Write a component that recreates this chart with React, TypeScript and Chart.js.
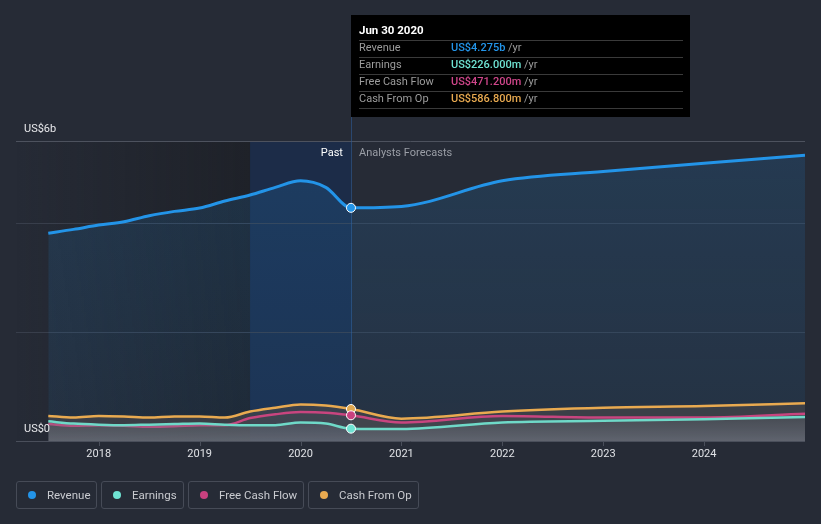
import React, { useEffect, useRef } from "react";
import { Chart, registerables } from "chart.js";

Chart.register(...registerables);

// ---- data (values in US$ billions, x in decimal years) ----
const pastDates = [2017.5, 2017.75, 2018.0, 2018.25, 2018.5, 2018.75, 2019.0, 2019.25, 2019.5, 2019.75, 2020.0, 2020.25, 2020.5];
const forecastDates = [2021.0, 2022.0, 2023.0, 2024.0, 2025.0];
const dates = [...pastDates, ...forecastDates];

const revenue = [3.81, 3.88, 3.96, 4.02, 4.13, 4.21, 4.27, 4.4, 4.51, 4.65, 4.77, 4.65, 4.275, 4.3, 4.77, 4.94, 5.09, 5.24];
const earnings = [0.36, 0.32, 0.3, 0.29, 0.3, 0.31, 0.32, 0.3, 0.29, 0.29, 0.34, 0.32, 0.226, 0.22, 0.34, 0.37, 0.4, 0.44];
const freeCashFlow = [0.31, 0.28, 0.29, 0.28, 0.26, 0.27, 0.29, 0.29, 0.42, 0.49, 0.53, 0.52, 0.4712, 0.34, 0.46, 0.43, 0.43, 0.5];
const cashFromOp = [0.46, 0.43, 0.46, 0.45, 0.43, 0.45, 0.45, 0.43, 0.54, 0.61, 0.67, 0.65, 0.5868, 0.41, 0.54, 0.61, 0.64, 0.69];

const xTickYears = [2018, 2019, 2020, 2021, 2022, 2023, 2024];
const yGridValues = [0, 2, 4, 5.5];
const yLabels = [
  { value: 0, text: "US$0" },
  { value: 5.5, text: "US$6b" },
];

const highlightDate = 2020.5;
const pastStart = 2017.18;
const bandStart = 2019.5;
const xMax = 2025.0;
const yMax = 5.5;

const tooltipTitle = "Jun 30 2020";
const tooltipRows = [
  { label: "Revenue", value: "US$4.275b", color: "#2394e8" },
  { label: "Earnings", value: "US$226.000m", color: "#6fe3d3" },
  { label: "Free Cash Flow", value: "US$471.200m", color: "#d0468b" },
  { label: "Cash From Op", value: "US$586.800m", color: "#e9aa50" },
];

const legendItems = [
  { label: "Revenue", color: "#2394e8", width: 81 },
  { label: "Earnings", color: "#6fe3d3", width: 83 },
  { label: "Free Cash Flow", color: "#c8417f", width: 116 },
  { label: "Cash From Op", color: "#e9aa50", width: 111 },
];

const FONT = "Roboto, 'Noto Sans', sans-serif";

const toPoints = (vals: number[]) => vals.map((y, i) => ({ x: dates[i], y }));

const backgroundPlugin = {
  id: "bgDecor",
  beforeDatasetsDraw(chart: any) {
    const { ctx, chartArea } = chart;
    const xs = chart.scales.x;
    const ys = chart.scales.y;
    const top = chartArea.top;
    const bottom = chartArea.bottom;
    const xL = xs.getPixelForValue(pastStart);
    const xB = xs.getPixelForValue(bandStart);
    const xH = xs.getPixelForValue(highlightDate);
    ctx.save();
    // past darkening gradient
    const g = ctx.createLinearGradient(xL, 0, xB, 0);
    g.addColorStop(0, "rgba(20,20,20,0)");
    g.addColorStop(1, "rgba(20,20,22,0.4)");
    ctx.fillStyle = g;
    ctx.fillRect(xL, top, xB - xL, bottom - top);
    // highlight band
    ctx.fillStyle = "rgba(10,50,110,0.33)";
    ctx.fillRect(xB, top, xH - xB, bottom - top);
    // gridlines
    yGridValues.forEach((v) => {
      const y = Math.round(ys.getPixelForValue(v)) + 0.5;
      ctx.strokeStyle = v === 0 ? "#4a4f5b" : v === yMax ? "#4d525e" : "#383e4b";
      ctx.lineWidth = 1;
      ctx.beginPath();
      ctx.moveTo(chartArea.left, y);
      ctx.lineTo(chartArea.right, y);
      ctx.stroke();
    });
    // x ticks
    const yb = Math.round(ys.getPixelForValue(0));
    ctx.strokeStyle = "#4a4f5b";
    xTickYears.forEach((yr) => {
      const x = Math.round(xs.getPixelForValue(yr)) + 0.5;
      ctx.beginPath();
      ctx.moveTo(x, yb);
      ctx.lineTo(x, yb + 5);
      ctx.stroke();
    });
    // vertical hover line
    ctx.strokeStyle = "rgba(45,90,150,0.6)";
    const xv = Math.round(xH) + 0.5;
    ctx.beginPath();
    ctx.moveTo(xv, 15);
    ctx.lineTo(xv, bottom);
    ctx.stroke();
    ctx.restore();
  },
  afterDraw(chart: any) {
    const { ctx, chartArea } = chart;
    const xs = chart.scales.x;
    const ys = chart.scales.y;
    ctx.save();
    ctx.textBaseline = "middle";
    // y labels
    ctx.font = `11px ${FONT}`;
    ctx.fillStyle = "#e8e9ec";
    ctx.textAlign = "left";
    yLabels.forEach((l) => {
      const y = ys.getPixelForValue(l.value);
      ctx.fillText(l.text, 24, y - 12);
    });
    // x labels
    ctx.textAlign = "center";
    ctx.fillStyle = "#e0e2e6";
    xTickYears.forEach((yr) => {
      ctx.fillText(String(yr), xs.getPixelForValue(yr), chartArea.bottom + 13);
    });
    // Past / Forecast labels
    const xH = xs.getPixelForValue(highlightDate);
    ctx.textAlign = "right";
    ctx.fillStyle = "#ffffff";
    ctx.fillText("Past", xH - 8, chartArea.top + 12);
    ctx.textAlign = "left";
    ctx.fillStyle = "#9a9ea6";
    ctx.fillText("Analysts Forecasts", xH + 8, chartArea.top + 12);

    // tooltip box
    const bx = Math.round(xH);
    const by = 15;
    const bw = 339;
    const bh = 102;
    ctx.fillStyle = "#000000";
    ctx.fillRect(bx, by, bw, bh);
    ctx.fillStyle = "#ffffff";
    ctx.font = `bold 11.5px ${FONT}`;
    ctx.fillText(tooltipTitle, bx + 8, by + 16);
    ctx.strokeStyle = "#3a3a3a";
    ctx.lineWidth = 1;
    const sepYs = [40, 57, 74, 91, 108];
    sepYs.forEach((sy) => {
      ctx.beginPath();
      ctx.moveTo(bx + 8, sy + 0.5);
      ctx.lineTo(bx + 332, sy + 0.5);
      ctx.stroke();
    });
    tooltipRows.forEach((r, i) => {
      const ty = 48.5 + i * 17;
      ctx.font = `11px ${FONT}`;
      ctx.fillStyle = "#9c9c9c";
      ctx.fillText(r.label, bx + 8, ty);
      ctx.font = `500 11px ${FONT}`;
      ctx.fillStyle = r.color;
      ctx.fillText(r.value, bx + 100, ty);
      const w = ctx.measureText(r.value).width;
      ctx.font = `11px ${FONT}`;
      ctx.fillStyle = "#9c9c9c";
      ctx.fillText(" /yr", bx + 100 + w, ty);
    });
    ctx.restore();
  },
};

const pointRadius = (c: any) => (c.raw && c.raw.x === highlightDate ? 4.5 : 0);

export default function App() {
  const canvasRef = useRef<HTMLCanvasElement | null>(null);

  useEffect(() => {
    document.body.style.margin = "0";
    const canvas = canvasRef.current;
    if (!canvas) return;

    const grad = (stops: [number, string][], y0: number, y1: number) => (c: any) => {
      const chart = c.chart;
      const area = chart.chartArea;
      if (!area) return stops[0][1];
      const ys = chart.scales.y;
      const g = chart.ctx.createLinearGradient(0, ys.getPixelForValue(y0), 0, ys.getPixelForValue(y1));
      stops.forEach(([o, col]) => g.addColorStop(o, col));
      return g;
    };

    const chart = new Chart(canvas, {
      type: "line",
      data: {
        datasets: [
          {
            label: "Earnings",
            data: toPoints(earnings),
            borderColor: "#6fd9c8",
            borderWidth: 2.5,
            backgroundColor: grad([[0, "rgba(110,115,128,0.18)"], [1, "rgba(120,125,138,0.55)"]], 0.4, 0),
            fill: "origin",
            pointRadius,
            pointBackgroundColor: "#6fe3d3",
            pointBorderColor: "#ffffff",
            pointBorderWidth: 1,
          },
          {
            label: "Free Cash Flow",
            data: toPoints(freeCashFlow),
            borderColor: "#c8457f",
            borderWidth: 2.5,
            backgroundColor: "rgba(92,94,102,0.2)",
            fill: "origin",
            pointRadius,
            pointBackgroundColor: "#c8417f",
            pointBorderColor: "#ffffff",
            pointBorderWidth: 1,
          },
          {
            label: "Cash From Op",
            data: toPoints(cashFromOp),
            borderColor: "#e9aa50",
            borderWidth: 2.5,
            backgroundColor: "rgba(70,70,74,0.7)",
            fill: "origin",
            pointRadius,
            pointBackgroundColor: "#e0a850",
            pointBorderColor: "#ffffff",
            pointBorderWidth: 1,
          },
          {
            label: "Revenue",
            data: toPoints(revenue),
            borderColor: "#2394e8",
            borderWidth: 3,
            backgroundColor: grad([[0, "rgba(33,150,243,0.15)"], [1, "rgba(33,150,243,0.07)"]], yMax, 0),
            fill: "origin",
            pointRadius,
            pointBackgroundColor: "#2394e8",
            pointBorderColor: "#ffffff",
            pointBorderWidth: 1,
          },
        ],
      },
      options: {
        responsive: false,
        animation: false,
        events: [],
        layout: { padding: { left: 16, right: 16, top: 141, bottom: 83 } },
        elements: { line: { cubicInterpolationMode: "monotone" } },
        scales: {
          x: { type: "linear", min: pastStart, max: xMax, display: false },
          y: { type: "linear", min: 0, max: yMax, display: false },
        },
        plugins: {
          legend: { display: false },
          tooltip: { enabled: false },
        },
      },
      plugins: [backgroundPlugin],
    });
    return () => chart.destroy();
  }, []);

  return (
    <div
      style={{
        position: "fixed",
        left: 0,
        top: 0,
        width: 821,
        height: 524,
        background: "#262b36",
        fontFamily: FONT,
      }}
    >
      <canvas ref={canvasRef} width={821} height={524} style={{ position: "absolute", left: 0, top: 0, width: 821, height: 524 }} />
      <div style={{ position: "absolute", left: 16, top: 481, display: "flex", gap: 4 }}>
        {legendItems.map((it) => (
          <div
            key={it.label}
            style={{
              boxSizing: "border-box",
              width: it.width,
              height: 28,
              border: "1px solid #464b57",
              borderRadius: 3,
              display: "flex",
              alignItems: "center",
              paddingLeft: 11,
              fontSize: 11.5,
              color: "#c9cbd0",
            }}
          >
            <span
              style={{
                width: 8,
                height: 8,
                borderRadius: 4,
                background: it.color,
                display: "inline-block",
                marginRight: 11,
              }}
            />
            {it.label}
          </div>
        ))}
      </div>
    </div>
  );
}
